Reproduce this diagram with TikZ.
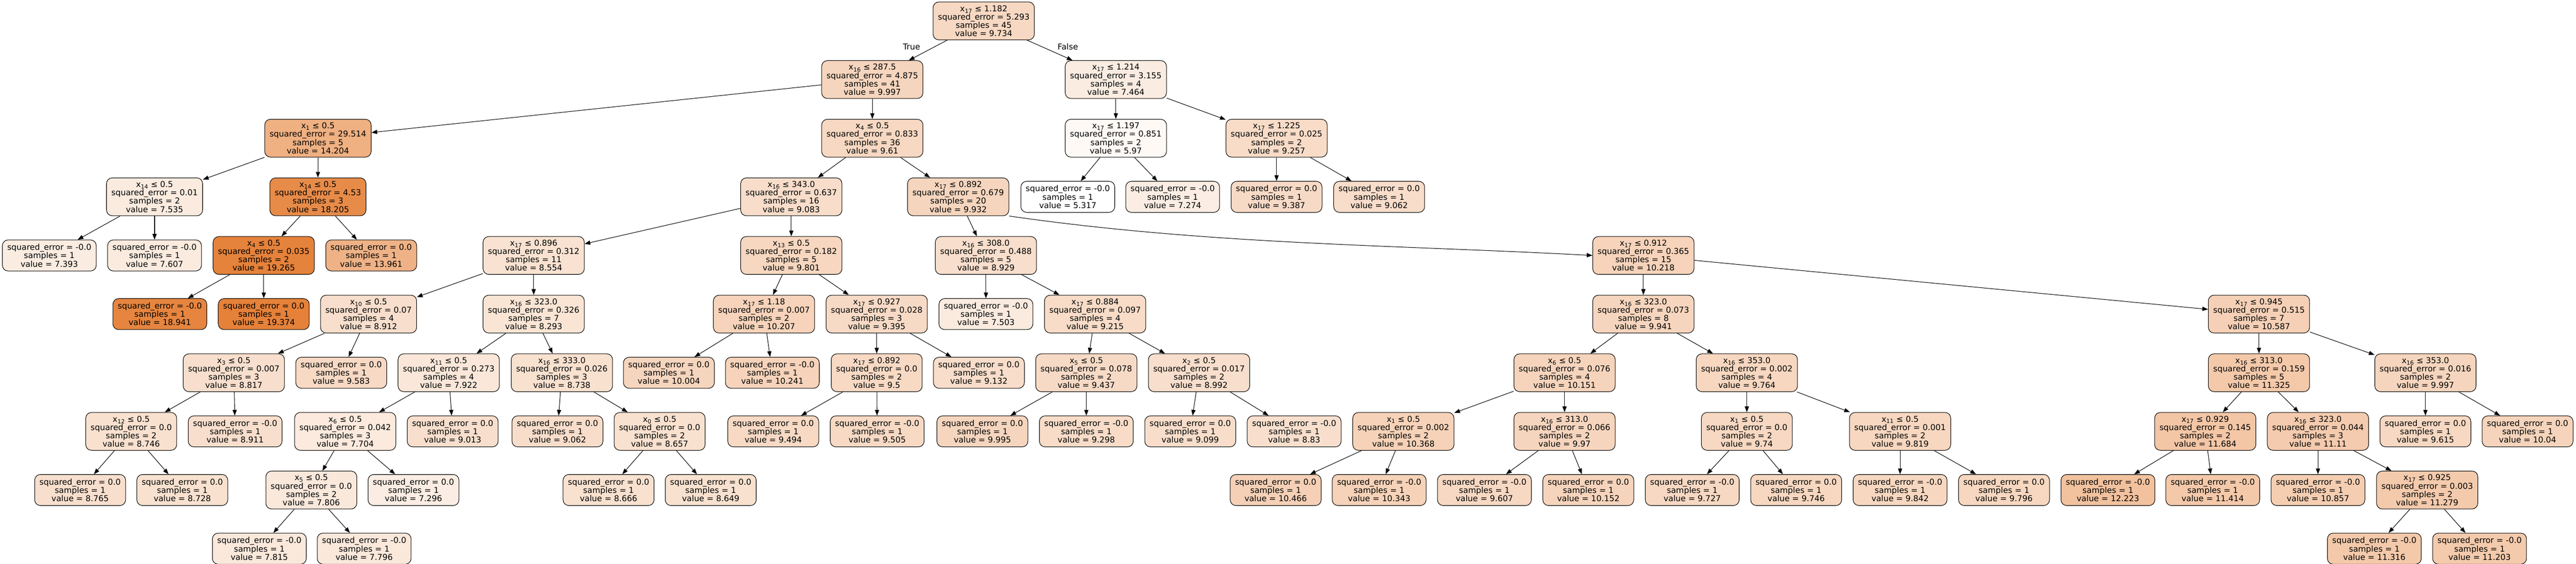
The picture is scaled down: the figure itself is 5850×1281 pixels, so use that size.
\documentclass[tikz,border=0pt]{standalone}
\usepackage{fontspec}
\setmainfont{DejaVu Sans}
\usetikzlibrary{arrows.meta}
\definecolor{treeor}{RGB}{229,129,57}
\tikzstyle{csplit}=[rectangle, draw, rounded corners=13pt, line width=1.2pt, align=center, inner xsep=11pt, inner ysep=3pt, minimum height=86pt, font=\fontsize{18.4}{18.9}\selectfont]
\tikzstyle{cleaf}=[csplit, minimum height=70.5pt]
\tikzstyle{clabel}=[font=\fontsize{18.4}{18.9}\selectfont]
\tikzstyle{cedge}=[line width=1.2pt, -{Triangle[length=13pt,width=9.5pt]}]

\begin{document}
\begin{tikzpicture}[x=1pt, y=-1pt]
\useasboundingbox (0,0) rectangle (5850,1281);

\node[csplit, fill=treeor!31] (n0) at (2234,47.5) {x\textsubscript{17} ≤ 1.182\\squared\_error = 5.293\\samples = 45\\value = 9.734};
\node[clabel] (ltrue) at (2070,106) {True};
\node[clabel] (lfalse) at (2425,106) {False};

\node[csplit, fill=treeor!33] (n1) at (1981,180.7) {x\textsubscript{16} ≤ 287.5\\squared\_error = 4.875\\samples = 41\\value = 9.997};
\node[csplit, fill=treeor!15] (n82) at (2534,180.7) {x\textsubscript{17} ≤ 1.214\\squared\_error = 3.155\\samples = 4\\value = 7.464};

\node[csplit, fill=treeor!63] (n2) at (722,313.9) {x\textsubscript{1} ≤ 0.5\\squared\_error = 29.514\\samples = 5\\value = 14.204};
\node[csplit, fill=treeor!31] (n11) at (1981,313.9) {x\textsubscript{4} ≤ 0.5\\squared\_error = 0.833\\samples = 36\\value = 9.61};
\node[csplit, fill=treeor!5] (n83) at (2534,313.9) {x\textsubscript{17} ≤ 1.197\\squared\_error = 0.851\\samples = 2\\value = 5.97};
\node[csplit, fill=treeor!28] (n86) at (2899,313.9) {x\textsubscript{17} ≤ 1.225\\squared\_error = 0.025\\samples = 2\\value = 9.257};

\node[csplit, fill=treeor!16] (n3) at (351,447.1) {x\textsubscript{14} ≤ 0.5\\squared\_error = 0.01\\samples = 2\\value = 7.535};
\node[csplit, fill=treeor!92] (n6) at (722,447.1) {x\textsubscript{14} ≤ 0.5\\squared\_error = 4.53\\samples = 3\\value = 18.205};
\node[csplit, fill=treeor!27] (n12) at (1797,447.1) {x\textsubscript{16} ≤ 343.0\\squared\_error = 0.637\\samples = 16\\value = 9.083};
\node[csplit, fill=treeor!33] (n43) at (2176,447.1) {x\textsubscript{17} ≤ 0.892\\squared\_error = 0.679\\samples = 20\\value = 9.932};
\node[cleaf, fill=treeor!0] (n84) at (2425,447.1) {squared\_error = -0.0\\samples = 1\\value = 5.317};
\node[cleaf, fill=treeor!14] (n85) at (2663,447.1) {squared\_error = -0.0\\samples = 1\\value = 7.274};
\node[cleaf, fill=treeor!29] (n87) at (2899,447.1) {squared\_error = 0.0\\samples = 1\\value = 9.387};
\node[cleaf, fill=treeor!27] (n88) at (3132,447.1) {squared\_error = 0.0\\samples = 1\\value = 9.062};

\node[cleaf, fill=treeor!15] (n4) at (112,580.3) {squared\_error = -0.0\\samples = 1\\value = 7.393};
\node[cleaf, fill=treeor!16] (n5) at (351,580.3) {squared\_error = -0.0\\samples = 1\\value = 7.607};
\node[csplit, fill=treeor!99] (n7) at (599,580.3) {x\textsubscript{4} ≤ 0.5\\squared\_error = 0.035\\samples = 2\\value = 19.265};
\node[cleaf, fill=treeor!61] (n10) at (843,580.3) {squared\_error = 0.0\\samples = 1\\value = 13.961};
\node[csplit, fill=treeor!23] (n13) at (1212,580.3) {x\textsubscript{17} ≤ 0.896\\squared\_error = 0.312\\samples = 11\\value = 8.554};
\node[csplit, fill=treeor!32] (n34) at (1797,580.3) {x\textsubscript{13} ≤ 0.5\\squared\_error = 0.182\\samples = 5\\value = 9.801};
\node[csplit, fill=treeor!26] (n44) at (2239,580.3) {x\textsubscript{16} ≤ 308.0\\squared\_error = 0.488\\samples = 5\\value = 8.929};
\node[csplit, fill=treeor!35] (n53) at (3732,580.3) {x\textsubscript{17} ≤ 0.912\\squared\_error = 0.365\\samples = 15\\value = 10.218};

\node[cleaf, fill=treeor!97] (n8) at (363,713.5) {squared\_error = -0.0\\samples = 1\\value = 18.941};
\node[cleaf, fill=treeor!100] (n9) at (599,713.5) {squared\_error = 0.0\\samples = 1\\value = 19.374};
\node[csplit, fill=treeor!26] (n14) at (837,713.5) {x\textsubscript{10} ≤ 0.5\\squared\_error = 0.07\\samples = 4\\value = 8.912};
\node[csplit, fill=treeor!21] (n21) at (1212,713.5) {x\textsubscript{16} ≤ 323.0\\squared\_error = 0.326\\samples = 7\\value = 8.293};
\node[csplit, fill=treeor!35] (n35) at (1735,713.5) {x\textsubscript{17} ≤ 1.18\\squared\_error = 0.007\\samples = 2\\value = 10.207};
\node[csplit, fill=treeor!29] (n38) at (1991,713.5) {x\textsubscript{17} ≤ 0.927\\squared\_error = 0.028\\samples = 3\\value = 9.395};
\node[cleaf, fill=treeor!16] (n45) at (2239,713.5) {squared\_error = -0.0\\samples = 1\\value = 7.503};
\node[csplit, fill=treeor!28] (n46) at (2487,713.5) {x\textsubscript{17} ≤ 0.884\\squared\_error = 0.097\\samples = 4\\value = 9.215};
\node[csplit, fill=treeor!33] (n54) at (3732,713.5) {x\textsubscript{16} ≤ 323.0\\squared\_error = 0.073\\samples = 8\\value = 9.941};
\node[csplit, fill=treeor!37] (n69) at (5130,713.5) {x\textsubscript{17} ≤ 0.945\\squared\_error = 0.515\\samples = 7\\value = 10.587};

\node[csplit, fill=treeor!25] (n15) at (531,846.7) {x\textsubscript{3} ≤ 0.5\\squared\_error = 0.007\\samples = 3\\value = 8.817};
\node[cleaf, fill=treeor!30] (n20) at (775,846.7) {squared\_error = 0.0\\samples = 1\\value = 9.583};
\node[csplit, fill=treeor!19] (n22) at (1019,846.7) {x\textsubscript{11} ≤ 0.5\\squared\_error = 0.273\\samples = 4\\value = 7.922};
\node[csplit, fill=treeor!24] (n29) at (1276,846.7) {x\textsubscript{16} ≤ 333.0\\squared\_error = 0.026\\samples = 3\\value = 8.738};
\node[cleaf, fill=treeor!33] (n36) at (1519,846.7) {squared\_error = 0.0\\samples = 1\\value = 10.004};
\node[cleaf, fill=treeor!35] (n37) at (1754,846.7) {squared\_error = -0.0\\samples = 1\\value = 10.241};
\node[csplit, fill=treeor!30] (n39) at (1991,846.7) {x\textsubscript{17} ≤ 0.892\\squared\_error = 0.0\\samples = 2\\value = 9.5};
\node[cleaf, fill=treeor!27] (n42) at (2223,846.7) {squared\_error = 0.0\\samples = 1\\value = 9.132};
\node[csplit, fill=treeor!29] (n47) at (2467,846.7) {x\textsubscript{5} ≤ 0.5\\squared\_error = 0.078\\samples = 2\\value = 9.437};
\node[csplit, fill=treeor!26] (n50) at (2723,846.7) {x\textsubscript{2} ≤ 0.5\\squared\_error = 0.017\\samples = 2\\value = 8.992};
\node[csplit, fill=treeor!34] (n55) at (3553,846.7) {x\textsubscript{6} ≤ 0.5\\squared\_error = 0.076\\samples = 4\\value = 10.151};
\node[csplit, fill=treeor!32] (n62) at (3967,846.7) {x\textsubscript{16} ≤ 353.0\\squared\_error = 0.002\\samples = 4\\value = 9.764};
\node[csplit, fill=treeor!43] (n70) at (5130,846.7) {x\textsubscript{16} ≤ 313.0\\squared\_error = 0.159\\samples = 5\\value = 11.325};
\node[csplit, fill=treeor!33] (n79) at (5508,846.7) {x\textsubscript{16} ≤ 353.0\\squared\_error = 0.016\\samples = 2\\value = 9.997};

\node[csplit, fill=treeor!24] (n16) at (298,979.9) {x\textsubscript{12} ≤ 0.5\\squared\_error = 0.0\\samples = 2\\value = 8.746};
\node[cleaf, fill=treeor!26] (n19) at (534,979.9) {squared\_error = -0.0\\samples = 1\\value = 8.911};
\node[csplit, fill=treeor!17] (n23) at (784,979.9) {x\textsubscript{6} ≤ 0.5\\squared\_error = 0.042\\samples = 3\\value = 7.704};
\node[cleaf, fill=treeor!26] (n28) at (1028,979.9) {squared\_error = 0.0\\samples = 1\\value = 9.013};
\node[cleaf, fill=treeor!27] (n30) at (1266,979.9) {squared\_error = 0.0\\samples = 1\\value = 9.062};
\node[csplit, fill=treeor!24] (n31) at (1498,979.9) {x\textsubscript{0} ≤ 0.5\\squared\_error = 0.0\\samples = 2\\value = 8.657};
\node[cleaf, fill=treeor!30] (n40) at (1756,979.9) {squared\_error = 0.0\\samples = 1\\value = 9.494};
\node[cleaf, fill=treeor!30] (n41) at (1992,979.9) {squared\_error = -0.0\\samples = 1\\value = 9.505};
\node[cleaf, fill=treeor!33] (n48) at (2231,979.9) {squared\_error = 0.0\\samples = 1\\value = 9.995};
\node[cleaf, fill=treeor!28] (n49) at (2467,979.9) {squared\_error = -0.0\\samples = 1\\value = 9.298};
\node[cleaf, fill=treeor!27] (n51) at (2703,979.9) {squared\_error = 0.0\\samples = 1\\value = 9.099};
\node[cleaf, fill=treeor!25] (n52) at (2939,979.9) {squared\_error = -0.0\\samples = 1\\value = 8.83};
\node[csplit, fill=treeor!36] (n56) at (3187,979.9) {x\textsubscript{1} ≤ 0.5\\squared\_error = 0.002\\samples = 2\\value = 10.368};
\node[csplit, fill=treeor!33] (n59) at (3553,979.9) {x\textsubscript{16} ≤ 313.0\\squared\_error = 0.066\\samples = 2\\value = 9.97};
\node[csplit, fill=treeor!31] (n63) at (3967,979.9) {x\textsubscript{1} ≤ 0.5\\squared\_error = 0.0\\samples = 2\\value = 9.74};
\node[csplit, fill=treeor!32] (n66) at (4315,979.9) {x\textsubscript{11} ≤ 0.5\\squared\_error = 0.001\\samples = 2\\value = 9.819};
\node[csplit, fill=treeor!45] (n71) at (5008,979.9) {x\textsubscript{17} ≤ 0.929\\squared\_error = 0.145\\samples = 2\\value = 11.684};
\node[csplit, fill=treeor!41] (n74) at (5264,979.9) {x\textsubscript{16} ≤ 323.0\\squared\_error = 0.044\\samples = 3\\value = 11.11};
\node[cleaf, fill=treeor!31] (n80) at (5508,979.9) {squared\_error = 0.0\\samples = 1\\value = 9.615};
\node[cleaf, fill=treeor!34] (n81) at (5740,979.9) {squared\_error = 0.0\\samples = 1\\value = 10.04};

\node[cleaf, fill=treeor!25] (n17) at (182,1113.1) {squared\_error = 0.0\\samples = 1\\value = 8.765};
\node[cleaf, fill=treeor!24] (n18) at (414,1113.1) {squared\_error = 0.0\\samples = 1\\value = 8.728};
\node[csplit, fill=treeor!18] (n24) at (707,1113.1) {x\textsubscript{5} ≤ 0.5\\squared\_error = 0.0\\samples = 2\\value = 7.806};
\node[cleaf, fill=treeor!14] (n27) at (939,1113.1) {squared\_error = 0.0\\samples = 1\\value = 7.296};
\node[cleaf, fill=treeor!24] (n32) at (1382,1113.1) {squared\_error = 0.0\\samples = 1\\value = 8.666};
\node[cleaf, fill=treeor!24] (n33) at (1614,1113.1) {squared\_error = 0.0\\samples = 1\\value = 8.649};
\node[cleaf, fill=treeor!37] (n57) at (2897,1113.1) {squared\_error = 0.0\\samples = 1\\value = 10.466};
\node[cleaf, fill=treeor!36] (n58) at (3132,1113.1) {squared\_error = -0.0\\samples = 1\\value = 10.343};
\node[cleaf, fill=treeor!31] (n60) at (3371,1113.1) {squared\_error = -0.0\\samples = 1\\value = 9.607};
\node[cleaf, fill=treeor!34] (n61) at (3607,1113.1) {squared\_error = 0.0\\samples = 1\\value = 10.152};
\node[cleaf, fill=treeor!31] (n64) at (3843,1113.1) {squared\_error = -0.0\\samples = 1\\value = 9.727};
\node[cleaf, fill=treeor!32] (n65) at (4079,1113.1) {squared\_error = 0.0\\samples = 1\\value = 9.746};
\node[cleaf, fill=treeor!32] (n67) at (4315,1113.1) {squared\_error = -0.0\\samples = 1\\value = 9.842};
\node[cleaf, fill=treeor!32] (n68) at (4551,1113.1) {squared\_error = 0.0\\samples = 1\\value = 9.796};
\node[cleaf, fill=treeor!49] (n72) at (4787,1113.1) {squared\_error = -0.0\\samples = 1\\value = 12.223};
\node[cleaf, fill=treeor!43] (n73) at (5025,1113.1) {squared\_error = -0.0\\samples = 1\\value = 11.414};
\node[cleaf, fill=treeor!39] (n75) at (5264,1113.1) {squared\_error = -0.0\\samples = 1\\value = 10.857};
\node[csplit, fill=treeor!42] (n76) at (5512,1113.1) {x\textsubscript{17} ≤ 0.925\\squared\_error = 0.003\\samples = 2\\value = 11.279};

\node[cleaf, fill=treeor!18] (n25) at (589,1246.3) {squared\_error = -0.0\\samples = 1\\value = 7.815};
\node[cleaf, fill=treeor!18] (n26) at (827,1246.3) {squared\_error = -0.0\\samples = 1\\value = 7.796};
\node[cleaf, fill=treeor!43] (n77) at (5392,1246.3) {squared\_error = -0.0\\samples = 1\\value = 11.316};
\node[cleaf, fill=treeor!42] (n78) at (5631,1246.3) {squared\_error = -0.0\\samples = 1\\value = 11.203};

\draw[cedge] (n0) -- (n1);
\draw[cedge] (n0) -- (n82);
\draw[cedge] (n1) -- (n2);
\draw[cedge] (n1) -- (n11);
\draw[cedge] (n2) -- (n3);
\draw[cedge] (n2) -- (n6);
\draw[cedge] (n3) -- (n4);
\draw[cedge] (n3) -- (n5);
\draw[cedge] (n6) -- (n7);
\draw[cedge] (n6) -- (n10);
\draw[cedge] (n7) -- (n8);
\draw[cedge] (n7) -- (n9);
\draw[cedge] (n11) -- (n12);
\draw[cedge] (n11) -- (n43);
\draw[cedge] (n12) -- (n13);
\draw[cedge] (n12) -- (n34);
\draw[cedge] (n13) -- (n14);
\draw[cedge] (n13) -- (n21);
\draw[cedge] (n14) -- (n15);
\draw[cedge] (n14) -- (n20);
\draw[cedge] (n15) -- (n16);
\draw[cedge] (n15) -- (n19);
\draw[cedge] (n16) -- (n17);
\draw[cedge] (n16) -- (n18);
\draw[cedge] (n21) -- (n22);
\draw[cedge] (n21) -- (n29);
\draw[cedge] (n22) -- (n23);
\draw[cedge] (n22) -- (n28);
\draw[cedge] (n23) -- (n24);
\draw[cedge] (n23) -- (n27);
\draw[cedge] (n24) -- (n25);
\draw[cedge] (n24) -- (n26);
\draw[cedge] (n29) -- (n30);
\draw[cedge] (n29) -- (n31);
\draw[cedge] (n31) -- (n32);
\draw[cedge] (n31) -- (n33);
\draw[cedge] (n34) -- (n35);
\draw[cedge] (n34) -- (n38);
\draw[cedge] (n35) -- (n36);
\draw[cedge] (n35) -- (n37);
\draw[cedge] (n38) -- (n39);
\draw[cedge] (n38) -- (n42);
\draw[cedge] (n39) -- (n40);
\draw[cedge] (n39) -- (n41);
\draw[cedge] (n43) -- (n44);
\draw[cedge] (n43.south east) .. controls +(450,65) and +(-450,-24) .. (n53.west);
\draw[cedge] (n44) -- (n45);
\draw[cedge] (n44) -- (n46);
\draw[cedge] (n46) -- (n47);
\draw[cedge] (n46) -- (n50);
\draw[cedge] (n47) -- (n48);
\draw[cedge] (n47) -- (n49);
\draw[cedge] (n50) -- (n51);
\draw[cedge] (n50) -- (n52);
\draw[cedge] (n53) -- (n54);
\draw[cedge] (n53) -- (n69);
\draw[cedge] (n54) -- (n55);
\draw[cedge] (n54) -- (n62);
\draw[cedge] (n55) -- (n56);
\draw[cedge] (n55) -- (n59);
\draw[cedge] (n56) -- (n57);
\draw[cedge] (n56) -- (n58);
\draw[cedge] (n59) -- (n60);
\draw[cedge] (n59) -- (n61);
\draw[cedge] (n62) -- (n63);
\draw[cedge] (n62) -- (n66);
\draw[cedge] (n63) -- (n64);
\draw[cedge] (n63) -- (n65);
\draw[cedge] (n66) -- (n67);
\draw[cedge] (n66) -- (n68);
\draw[cedge] (n69) -- (n70);
\draw[cedge] (n69) -- (n79);
\draw[cedge] (n70) -- (n71);
\draw[cedge] (n70) -- (n74);
\draw[cedge] (n71) -- (n72);
\draw[cedge] (n71) -- (n73);
\draw[cedge] (n74) -- (n75);
\draw[cedge] (n74) -- (n76);
\draw[cedge] (n76) -- (n77);
\draw[cedge] (n76) -- (n78);
\draw[cedge] (n79) -- (n80);
\draw[cedge] (n79) -- (n81);
\draw[cedge] (n82) -- (n83);
\draw[cedge] (n82) -- (n86);
\draw[cedge] (n83) -- (n84);
\draw[cedge] (n83) -- (n85);
\draw[cedge] (n86) -- (n87);
\draw[cedge] (n86) -- (n88);

\end{tikzpicture}
\end{document}
